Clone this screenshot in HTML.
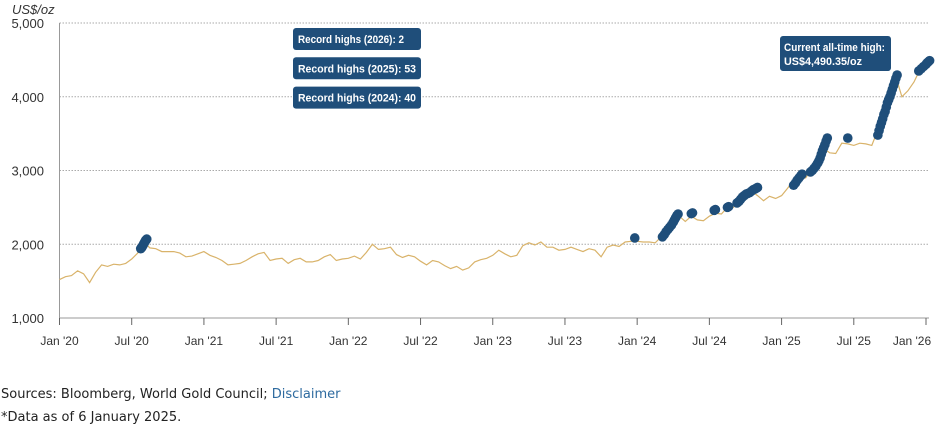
<!DOCTYPE html>
<html><head><meta charset="utf-8"><style>
html,body{margin:0;padding:0;background:#fff;}
body{width:936px;height:431px;overflow:hidden;font-family:"Liberation Sans",sans-serif;}
svg text{font-family:"Liberation Sans",sans-serif;}
.foot{position:absolute;left:1px;font-size:14px;color:#222;font-family:"DejaVu Sans","Liberation Sans",sans-serif;font-size:13px;}
</style></head><body>
<svg id="chart" width="936" height="380" style="position:absolute;left:0;top:0"></svg>
<div class="foot" style="top:387px">Sources: Bloomberg, World Gold Council; <span style="color:#2d6a9f">Disclaimer</span></div>
<div class="foot" style="top:410px">*Data as of 6 January 2025.</div>
<script>
// semi-monthly gold price, starting Jan 2020 (step 0.5 month)
const priceValues = [
1520,1560,1575,1640,1600,1480,1620,1720,1700,1730,1720,1740,1800,1880,2040,1950,1940,1900,1900,1900,1880,1830,1840,1870,
1900,1850,1820,1780,1720,1730,1740,1780,1830,1870,1890,1780,1800,1810,1740,1790,1810,1760,1760,1780,1830,1860,1780,1800,
1810,1840,1800,1890,2000,1930,1940,1960,1860,1820,1850,1830,1770,1720,1780,1760,1710,1670,1700,1650,1680,1760,1790,1810,
1850,1920,1870,1830,1850,1980,2020,1990,2030,1960,1960,1920,1930,1960,1930,1900,1940,1920,1830,1960,1990,1970,2030,2040,
2040,2030,2030,2020,2100,2200,2330,2380,2310,2380,2330,2320,2380,2420,2410,2500,2500,2580,2640,2720,2660,2590,2650,2620,
2660,2760,2870,2920,2900,3020,3200,3300,3240,3230,3370,3360,3340,3370,3360,3340,3550,3650,3980,4270,4000,4080,4200,4370,
4470];
const recordMonths = [6.75,6.8,6.85,6.9,6.95,7.0,7.05,7.1,7.15,7.2,7.25, 47.8,
50.1,50.25,50.4,50.55,50.7,50.85,51.0,51.1,51.2,51.3,51.4, 52.5,52.6, 54.4,54.5, 55.5,55.6,
56.3,56.45,56.6,56.75,56.9,57.05,57.2,57.35,57.5,57.65,57.8,57.9,58.0,
61.0,61.15,61.3,61.45,61.6,61.7, 62.4,62.55,62.7,62.85,63.0,63.1,63.2,63.3,63.4,63.5,63.6,63.7,63.8, 65.5,
68.0,68.1,68.2,68.3,68.4,68.5,68.6,68.7,68.8,68.9,69.0,69.1,69.2,69.3,69.4,69.5,69.6, 71.4,71.6,71.8,72.0,72.1,72.2,72.3];
const recordValues = [1940,1950,1960,1975,1990,2005,2020,2035,2050,2060,2070, 2085,
2100,2130,2170,2200,2230,2260,2300,2330,2360,2390,2410, 2415,2425, 2460,2470, 2500,2510,
2560,2580,2610,2640,2660,2680,2690,2700,2720,2740,2750,2760,2770,
2800,2830,2870,2900,2930,2950, 2980,3000,3030,3060,3100,3130,3170,3220,3270,3310,3350,3400,3440, 3440,
3480,3540,3600,3650,3700,3760,3800,3860,3920,3960,4000,4050,4100,4150,4200,4250,4295, 4350,4380,4410,4440,4460,4475,4490];
const yTicks = [1000,2000,3000,4000,5000];
const xTickLabels = ["Jan '20","Jul '20","Jan '21","Jul '21","Jan '22","Jul '22","Jan '23","Jul '23","Jan '24","Jul '24","Jan '25","Jul '25","Jan '26"];
const annotations = ["Record highs (2026): 2","Record highs (2025): 53","Record highs (2024): 40"];

const NS="http://www.w3.org/2000/svg";
const svg=document.getElementById('chart');
const X0=59.5, X1=926, Y0=318, Y1=23;
const xs=t=>X0+(X1-X0)*t/72;
const ys=v=>Y0-(Y0-Y1)*(v-1000)/4000;
function mk(tag,attrs,parent){const e=document.createElementNS(NS,tag);for(const k in attrs)e.setAttribute(k,attrs[k]);(parent||svg).appendChild(e);return e;}

yTicks.forEach((v,i)=>{
  if(v>1000){const g=mk('line',{x1:X0,x2:929,y1:ys(v),y2:ys(v),stroke:'#aaa','stroke-dasharray':'1.5,1.5','stroke-width':1});
  
  }
  const t=mk('text',{x:44,y:ys(v)+5,'text-anchor':'end','font-size':13,fill:'#333'});
  t.textContent=v.toLocaleString('en-US');
  
  
});
const unit=mk('text',{x:12,y:14,'font-size':13,'font-style':'italic',fill:'#333'});
unit.textContent='US$/oz';


const ya=mk('line',{x1:X0,x2:X0,y1:Y1,y2:Y0,stroke:'#999','stroke-width':1});


const xa=mk('line',{x1:X0,x2:929,y1:Y0,y2:Y0,stroke:'#999','stroke-width':1});


xTickLabels.forEach((lab,i)=>{
  const x=xs(i*6);
  const tk=mk('line',{x1:x,x2:x,y1:Y0,y2:Y0+7,stroke:'#666','stroke-width':1});
  
  
  const lx=i===xTickLabels.length-1?x-14:x;
  const t=mk('text',{x:lx,y:345,'text-anchor':'middle','font-size':12,fill:'#333'});
  t.textContent=lab;
  
  
});
const d=priceValues.map((v,i)=>(i?'L':'M')+xs(i*0.5).toFixed(1)+','+ys(v).toFixed(1)).join('');
const line=mk('path',{d:d,fill:'none',stroke:'#d9b36a','stroke-width':1.2});


recordMonths.forEach((t,i)=>{
  const c=mk('circle',{cx:xs(t),cy:ys(recordValues[i]),r:4.8,fill:'#1f4e7a'});
  
  
});
annotations.forEach((txt,i)=>{
  const y=28+i*29.3;
  const r=mk('rect',{x:293,y:y,width:128,height:22,rx:3,fill:'#1f4e7a'});
  
  
  const t=mk('text',{x:298,y:y+15,'font-size':11,'font-weight':'bold',fill:'#fff',textLength:i===0?106:118,lengthAdjust:'spacingAndGlyphs'});
  t.textContent=txt;
  
  
});
const ab=mk('rect',{x:780,y:36,width:111,height:35,rx:3,fill:'#1f4e7a'});


['Current all-time high:','US$4,490.35/oz'].forEach((s,i)=>{
  const t=mk('text',{x:784,y:51+i*14,'font-size':11,'font-weight':'bold',fill:'#fff',textLength:i===0?101:78,lengthAdjust:'spacingAndGlyphs'});
  t.textContent=s;
  
  
});
</script>
</body></html>
